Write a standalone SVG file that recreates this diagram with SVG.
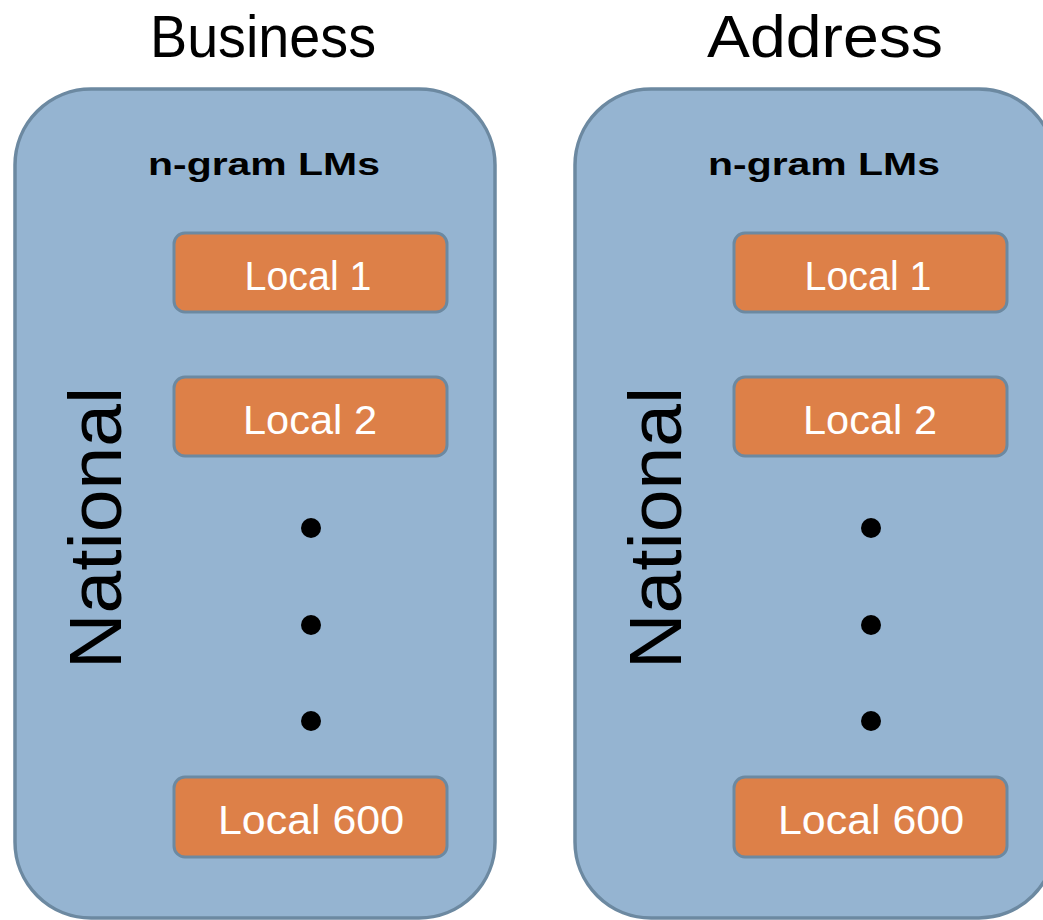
<svg xmlns="http://www.w3.org/2000/svg" width="1043" height="920" viewBox="0 0 1043 920">
<style>
.panel{fill:#95b4d1;stroke:#6c89a1;stroke-width:3.5}
.local{fill:#dd8048;stroke:#6c89a1;stroke-width:3}
.title{font-family:"Liberation Sans",Arial,sans-serif;font-size:60px;fill:#000;text-anchor:middle}
.hdr{font-family:"Liberation Sans",Arial,sans-serif;font-size:31px;font-weight:bold;fill:#000;text-anchor:middle}
.lt{font-family:"Liberation Sans",Arial,sans-serif;font-size:41px;fill:#fff;text-anchor:middle}
.nat{font-family:"Liberation Sans",Arial,sans-serif;font-size:75px;fill:#000;text-anchor:middle}
.dot{fill:#000}
</style>
<rect width="1043" height="920" fill="#fff"/>
<g id="business">
<text class="title" x="263" y="57" textLength="226" lengthAdjust="spacingAndGlyphs">Business</text>
<rect class="panel" x="15" y="89" width="480" height="829" rx="76" ry="76"/>
<text class="hdr" x="264" y="175" textLength="232" lengthAdjust="spacingAndGlyphs">n-gram LMs</text>
<text class="nat" transform="translate(121,528) rotate(-90)" x="0" y="0" textLength="282" lengthAdjust="spacingAndGlyphs">National</text>
</g>
<g id="b-local1"><rect class="local" x="174" y="233" width="273" height="79" rx="11"/><text class="lt" x="308" y="290" textLength="127" lengthAdjust="spacingAndGlyphs">Local 1</text></g>
<g id="b-local2"><rect class="local" x="174" y="377" width="273" height="79" rx="11"/><text class="lt" x="310" y="434" textLength="134" lengthAdjust="spacingAndGlyphs">Local 2</text></g>
<g id="b-dots"><circle class="dot" cx="311" cy="528" r="10"/><circle class="dot" cx="311" cy="625" r="10"/><circle class="dot" cx="311" cy="721" r="10"/></g>
<g id="b-local600"><rect class="local" x="174" y="777" width="273" height="80" rx="11"/><text class="lt" x="311" y="834" textLength="186" lengthAdjust="spacingAndGlyphs">Local 600</text></g>

<g id="address">
<text class="title" x="825" y="57" textLength="236" lengthAdjust="spacingAndGlyphs">Address</text>
<rect class="panel" x="575" y="89" width="480" height="829" rx="76" ry="76"/>
<text class="hdr" x="824" y="175" textLength="232" lengthAdjust="spacingAndGlyphs">n-gram LMs</text>
<text class="nat" transform="translate(681,528) rotate(-90)" x="0" y="0" textLength="282" lengthAdjust="spacingAndGlyphs">National</text>
</g>
<g id="a-local1"><rect class="local" x="734" y="233" width="273" height="79" rx="11"/><text class="lt" x="868" y="290" textLength="127" lengthAdjust="spacingAndGlyphs">Local 1</text></g>
<g id="a-local2"><rect class="local" x="734" y="377" width="273" height="79" rx="11"/><text class="lt" x="870" y="434" textLength="134" lengthAdjust="spacingAndGlyphs">Local 2</text></g>
<g id="a-dots"><circle class="dot" cx="871" cy="528" r="10"/><circle class="dot" cx="871" cy="625" r="10"/><circle class="dot" cx="871" cy="721" r="10"/></g>
<g id="a-local600"><rect class="local" x="734" y="777" width="273" height="80" rx="11"/><text class="lt" x="871" y="834" textLength="186" lengthAdjust="spacingAndGlyphs">Local 600</text></g>
<g id="connectors"/>
</svg>
